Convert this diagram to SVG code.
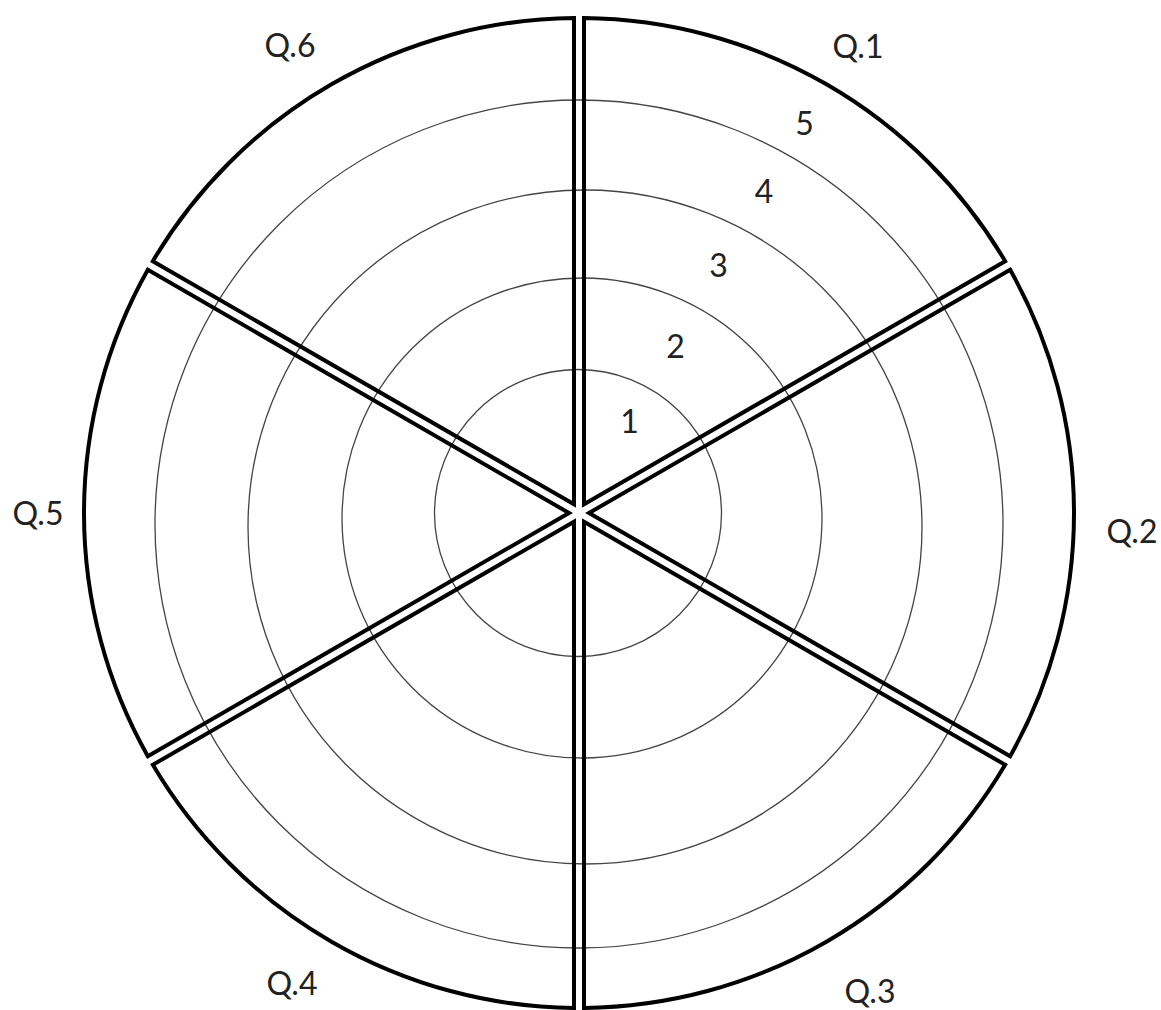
<svg xmlns="http://www.w3.org/2000/svg" width="1161" height="1010" viewBox="0 0 1161 1010">
<style>
.ring{fill:none;stroke:#444;stroke-width:1.3}
.sector{fill:none;stroke:#000;stroke-width:4;stroke-linejoin:miter}
.lbl{font-family:Lato,"Open Sans",sans-serif;font-size:32px;fill:#222;text-anchor:middle}
</style>
<rect width="1161" height="1010" fill="#fff"/>
<g id="rings">
<circle class="ring" cx="578" cy="513" r="143.5"/>
<circle class="ring" cx="582" cy="518" r="240"/>
<circle class="ring" cx="585" cy="527" r="337"/>
<circle class="ring" cx="579" cy="524" r="424"/>
</g>
<g id="connectors"></g>
<g id="q1"><path class="sector" d="M584,504.34 L584,18.03 A495,495 0 0 1 1005.16,261.18 Z"/><text class="lbl" x="858" y="58">Q.1</text></g>
<g id="q2"><path class="sector" d="M589,513 L1010.16,269.84 A495,495 0 0 1 1010.16,756.16 Z"/><text class="lbl" x="1132" y="543">Q.2</text></g>
<g id="q3"><path class="sector" d="M584,521.66 L1005.16,764.82 A495,495 0 0 1 584,1007.97 Z"/><text class="lbl" x="870" y="1003">Q.3</text></g>
<g id="q4"><path class="sector" d="M574,521.66 L574,1007.97 A495,495 0 0 1 152.84,764.82 Z"/><text class="lbl" x="292" y="995">Q.4</text></g>
<g id="q5"><path class="sector" d="M569,513 L147.84,756.16 A495,495 0 0 1 147.84,269.84 Z"/><text class="lbl" x="38" y="525">Q.5</text></g>
<g id="q6"><path class="sector" d="M574,504.34 L152.84,261.18 A495,495 0 0 1 574,18.03 Z"/><text class="lbl" x="290" y="57">Q.6</text></g>
<g id="scale">
<text class="lbl" x="629.5" y="433">1</text>
<text class="lbl" x="675.5" y="358">2</text>
<text class="lbl" x="718.5" y="277">3</text>
<text class="lbl" x="764" y="203">4</text>
<text class="lbl" x="804.5" y="135">5</text>
</g>
</svg>
